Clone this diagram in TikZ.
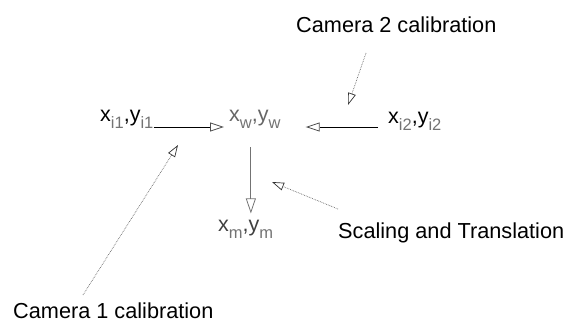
\documentclass[tikz,border=0pt]{standalone}
\usepackage{fontspec}
\setmainfont{Liberation Sans}
\usetikzlibrary{positioning, arrows.meta}
\newcommand{\lsub}[1]{\raisebox{-7pt}{\fontsize{16.5}{17}\selectfont\color{black!55}#1}}
\tikzset{
  lbl/.style={inner sep=0pt, anchor=base west, text=black,
              font=\fontsize{21.5}{24}\selectfont},
  note/.style={inner sep=0pt, anchor=base west, text=black,
              font=\fontsize{21.7}{24}\selectfont},
  arr/.style={-{Triangle[open, length=14pt, width=9pt, color=black!70]}, line width=0.8pt, color=black},
  varr/.style={-{Triangle[open, length=15pt, width=10pt]}, line width=0.8pt, color=black!55},
  darr/.style={-{Triangle[open, length=12pt, width=8pt, color=black!80]}, line width=0.7pt,
               densely dotted, color=black!60},
}
\begin{document}
\begin{tikzpicture}[x=1pt, y=-1pt]
  \useasboundingbox (0,0) rectangle (575,324);
  \node[lbl] (xi1) at (100,121) {x\lsub{i1},y\lsub{i1}};
  \node[lbl, text=black!60] (xw) at (229,121) {x\lsub{w},y\lsub{w}};
  \node[lbl] (xi2) at (388,123) {x\lsub{i2},y\lsub{i2}};
  \node[lbl, text=black!75] (xm) at (218,231) {x\lsub{m},y\lsub{m}};
  \node[note] (cam2) at (296,32) {Camera 2 calibration};
  \node[note] (scl) at (338,238) {Scaling and Translation};
  \node[note] (cam1) at (13,318) {Camera 1 calibration};
  \coordinate (c2tail) at (366,53);
  \coordinate (c2tip) at (348,105);
  \coordinate (c1tail) at (83,295);
  \coordinate (c1tip) at (178,145);
  \coordinate (stail) at (338,209);
  \coordinate (stip) at (272,182);
  \draw[arr] ([yshift=-6pt]xi1.base east) -- ([xshift=-5pt, yshift=-6pt]xw.base west);
  \draw[arr] ([xshift=-10pt, yshift=-4pt]xi2.base west) -- ([xshift=25pt, yshift=-6pt]xw.base east);
  \draw[varr, shorten >=6pt] ([xshift=-4pt, yshift=-26pt]xw.base) -- ([xshift=-4pt]xw.base |- xm.north);
  \draw[darr] (c2tail) -- (c2tip);
  \draw[darr] (c1tail) -- (c1tip);
  \draw[darr] (stail) -- (stip);
\end{tikzpicture}
\end{document}
